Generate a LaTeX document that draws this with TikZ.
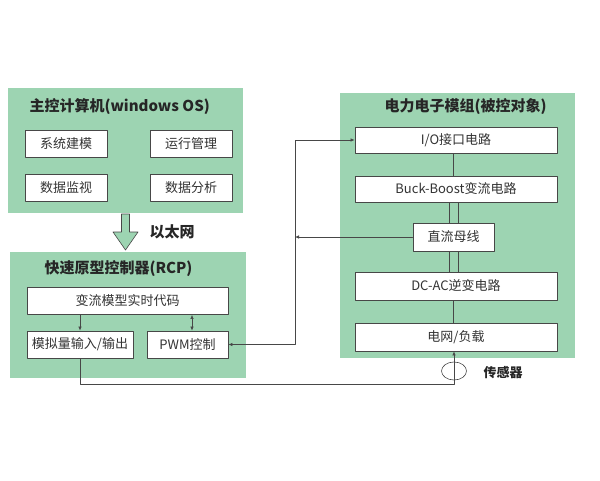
\documentclass[tikz,border=0pt]{standalone}
\usepackage{fontspec}
\setmainfont{Noto Sans CJK SC}
\usetikzlibrary{arrows.meta,shapes.geometric}
\definecolor{PanelGreen}{HTML}{9DD4B2}
\definecolor{LineGray}{HTML}{474747}

\begin{document}
\begin{tikzpicture}[x=1pt,y=-1pt,line cap=round,line join=round,
  panel/.style={fill=PanelGreen,inner sep=0pt},
  box/.style={draw=LineGray,fill=white,line width=0.8pt,minimum height=27pt,inner sep=0pt,font=\fontsize{13}{15}\selectfont,text=black!80},
  title/.style={anchor=west,font=\fontsize{15}{18}\selectfont\bfseries,text=black!85},
  link/.style={draw=LineGray,line width=0.6pt},
  tip/.style={-{Latex[length=4pt,width=3.5pt]}}]
  \useasboundingbox (0,0) rectangle (600,480);
  % panels
  \node[panel,minimum width=235pt,minimum height=125pt] (host) at (125.5,150.5) {};
  \node[panel,minimum width=236pt,minimum height=126pt] (rcp) at (128,315) {};
  \node[panel,minimum width=235pt,minimum height=265pt] (plant) at (457.5,225.5) {};
  \node[title] (hosttitle) at (26,107) {主控计算机(windows OS)};
  \node[title] (rcptitle) at (41,269) {快速原型控制器(RCP)};
  \node[title] (planttitle) at (381,107) {电力电子模组(被控对象)};
  % host computer
  \node[box,minimum width=82pt] (model) at (66,144) {系统建模};
  \node[box,minimum width=82pt] (run) at (191,144) {运行管理};
  \node[box,minimum width=82pt] (watch) at (66,188) {数据监视};
  \node[box,minimum width=82pt] (stats) at (191,188) {数据分析};
  % ethernet arrow
  \draw[LineGray,fill=PanelGreen,line width=0.6pt] (121.5,214)--(129.5,214)--(129.5,232)--(138,232)--(125.5,250)--(113,232)--(121.5,232)--cycle;
  \node[font=\fontsize{15}{18}\selectfont\bfseries,text=black!85] (eth) at (172,232) {以太网};
  % RCP
  \node[box,minimum width=201pt] (code) at (127.5,301) {变流模型实时代码};
  \node[box,minimum width=106pt] (aio) at (80,344.5) {模拟量输入/输出};
  \node[box,minimum width=81pt] (pwm) at (187.5,344.5) {PWM控制};
  % power electronics
  \node[box,minimum width=202pt,minimum height=26pt] (iob) at (456,140) {I/O接口电路};
  \node[box,minimum width=202pt,minimum height=26pt] (buck) at (456,189) {Buck-Boost变流电路};
  \node[box,minimum width=81pt,minimum height=28pt] (bus) at (453.5,237) {直流母线};
  \node[box,minimum width=202pt,minimum height=28pt] (inv) at (456,286) {DC-AC逆变电路};
  \node[box,minimum width=202pt,minimum height=28pt] (grid) at (456,337) {电网/负载};
  \node[ellipse,draw=LineGray,line width=0.6pt,minimum width=25pt,minimum height=18pt,inner sep=0pt] (sensor) at (454,371) {};
  \node[anchor=west,font=\fontsize{13}{15}\selectfont\bfseries,text=black!85] (senselabel) at (480,373) {传感器};
  \coordinate (lv) at (295,0);
  \coordinate (fb) at (454,384);
  % connectors
  \draw[link,tip] (code.south -| aio) -- (aio.north);
  \draw[link,{Latex[length=4pt,width=3.5pt]}-{Latex[length=4pt,width=3.5pt]}] (code.south -| 192,0) -- (pwm.north -| 192,0);
  \draw[link] (iob.south -| bus) -- (buck.north -| bus);
  \draw[link] ([xshift=-4.5pt]buck.south -| bus) -- ([xshift=-4.5pt]bus.north);
  \draw[link] ([xshift=4.5pt]buck.south -| bus) -- ([xshift=4.5pt]bus.north);
  \draw[link] ([xshift=-4.5pt]bus.south) -- ([xshift=-4.5pt]inv.north -| bus);
  \draw[link] ([xshift=4.5pt]bus.south) -- ([xshift=4.5pt]inv.north -| bus);
  \draw[link] (inv.south -| bus) -- (grid.north -| bus);
  \draw[link,{Latex[length=4pt,width=3.5pt]}-{Latex[length=4pt,width=3.5pt]}] (pwm.east) -| (lv |- iob.west) -- (iob.west);
  \draw[link,tip] (bus.west) -- (bus.west -| lv);
  \draw[link,tip] (aio.south) |- (fb) -- (fb |- grid.south);
\end{tikzpicture}
\end{document}
